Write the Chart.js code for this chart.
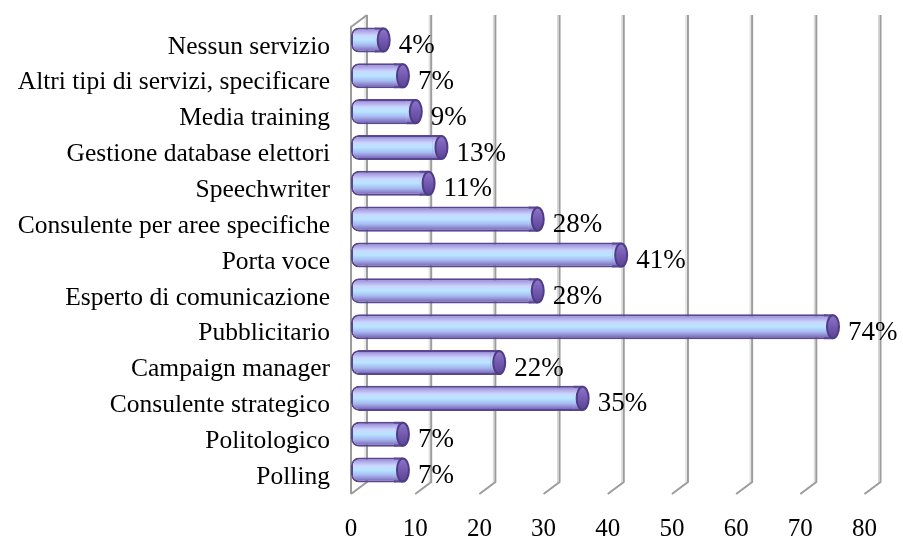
<!DOCTYPE html>
<html>
<head>
<meta charset="utf-8">
<script src="https://cdn.jsdelivr.net/npm/chart.js@4.4.1/dist/chart.umd.min.js"></script>
<style>
  html, body { margin: 0; padding: 0; background: #ffffff; }
  #wrap { width: 903px; height: 540px; position: relative; }
</style>
</head>
<body>
<div id="wrap"><canvas id="chart"></canvas></div>
<script>
// ---- data (top to bottom, as in the picture) ----
const categories = [
  "Nessun servizio",
  "Altri tipi di servizi, specificare",
  "Media training",
  "Gestione database elettori",
  "Speechwriter",
  "Consulente per aree specifiche",
  "Porta voce",
  "Esperto di comunicazione",
  "Pubblicitario",
  "Campaign manager",
  "Consulente strategico",
  "Politologico",
  "Polling"
];
const percentValues = [4, 7, 9, 13, 11, 28, 41, 28, 74, 22, 35, 7, 7];
const axisMin = 0;
const axisMax = 80;
const axisStep = 10;

const SERIF = "'Liberation Serif', 'Times New Roman', serif";
const DEPTH_X = 16, DEPTH_Y = -12;
const CAP_SHIFT = 7;

function makeBarGradient(ctx, cy, h) {
  const g = ctx.createLinearGradient(0, cy - h / 2, 0, cy + h / 2);
  g.addColorStop(0.00, '#6a58a8');
  g.addColorStop(0.12, '#a79ee2');
  g.addColorStop(0.32, '#ccd6ff');
  g.addColorStop(0.50, '#b6e6ff');
  g.addColorStop(0.70, '#a9baf2');
  g.addColorStop(0.88, '#857cc6');
  g.addColorStop(1.00, '#5c4c96');
  return g;
}

function barGradient(c) {
  const chart = c.chart;
  const yScale = chart.scales.y;
  if (!yScale) return '#b8c8ff';
  const cy = yScale.getPixelForValue(c.dataIndex);
  if (!isFinite(cy)) return '#b8c8ff';
  return makeBarGradient(chart.ctx, cy, 25);
}

const wallPlugin = {
  id: 'wall3d',
  beforeDatasetsDraw(chart) {
    const ctx = chart.ctx;
    const xs = chart.scales.x;
    const area = chart.chartArea;
    const frontTop = area.top + 5;
    const frontBottom = area.bottom + 6;
    const backTop = frontTop + DEPTH_Y;
    const backBottom = frontBottom + DEPTH_Y;
    ctx.save();
    ctx.lineCap = 'butt';
    xs.ticks.forEach(t => {
      const fx = xs.getPixelForValue(t.value);
      const bx = fx + DEPTH_X;
      ctx.strokeStyle = '#d4d4d4';
      ctx.lineWidth = 1;
      ctx.beginPath();
      ctx.moveTo(bx - 2, backTop);
      ctx.lineTo(bx - 2, backBottom);
      ctx.stroke();
      ctx.strokeStyle = '#9c9c9c';
      ctx.lineWidth = 2;
      ctx.beginPath();
      ctx.moveTo(bx, backTop);
      ctx.lineTo(bx, backBottom);
      ctx.lineTo(fx, frontBottom);
      ctx.stroke();
    });
    const f0 = xs.getPixelForValue(axisMin);
    ctx.strokeStyle = '#9c9c9c';
    ctx.lineWidth = 2;
    ctx.beginPath();
    ctx.moveTo(f0 + DEPTH_X, backTop);
    ctx.lineTo(f0, frontTop);
    ctx.lineTo(f0, frontBottom);
    ctx.stroke();
    ctx.restore();
  },
  afterDatasetsDraw(chart) {
    const ctx = chart.ctx;
    const meta = chart.getDatasetMeta(0);
    ctx.save();
    meta.data.forEach((bar, i) => {
      const h = bar.height;
      const cy = bar.y;
      const top = cy - h / 2, bot = cy + h / 2;
      const cx = bar.x + CAP_SHIFT;
      ctx.fillStyle = makeBarGradient(ctx, cy, h);
      ctx.fillRect(bar.x - 2, top + 1, cx - bar.x + 2, h - 2);
      ctx.strokeStyle = '#5a4690';
      ctx.lineWidth = 2;
      ctx.beginPath();
      ctx.moveTo(bar.x - 2, top + 1);
      ctx.lineTo(cx, top + 1);
      ctx.moveTo(bar.x - 2, bot - 1);
      ctx.lineTo(cx, bot - 1);
      ctx.stroke();
      const rx = 6, ry = h / 2 - 1;
      const g = ctx.createLinearGradient(0, cy - ry, 0, cy + ry);
      g.addColorStop(0, '#8d76c8');
      g.addColorStop(0.5, '#7459b0');
      g.addColorStop(1, '#5a4594');
      ctx.fillStyle = g;
      ctx.strokeStyle = '#4f3c86';
      ctx.lineWidth = 2;
      ctx.beginPath();
      ctx.ellipse(cx, cy, rx, ry, 0, 0, Math.PI * 2);
      ctx.fill();
      ctx.stroke();
      ctx.fillStyle = '#000000';
      ctx.font = "27px " + SERIF;
      ctx.textAlign = 'left';
      ctx.textBaseline = 'middle';
      ctx.fillText(percentValues[i] + '%', bar.x + 22, cy + 6);
    });
    ctx.restore();
  }
};

new Chart(document.getElementById('chart'), {
  type: 'bar',
  data: {
    labels: categories,
    datasets: [{
      data: percentValues,
      backgroundColor: barGradient,
      borderColor: '#5a4690',
      borderWidth: 2,
      borderSkipped: false,
      borderRadius: { topLeft: 8, bottomLeft: 8, topRight: 0, bottomRight: 0 },
      barPercentage: 0.70,
      categoryPercentage: 1.0
    }]
  },
  options: {
    indexAxis: 'y',
    responsive: true,
    maintainAspectRatio: false,
    animation: false,
    layout: { padding: { left: 0, right: 35, top: 22, bottom: 0 } },
    plugins: {
      legend: { display: false },
      tooltip: { enabled: false },
      title: { display: false }
    },
    scales: {
      x: {
        min: axisMin,
        max: axisMax,
        grid: { display: false, drawTicks: false },
        border: { display: false },
        ticks: {
          stepSize: axisStep,
          color: '#000000',
          font: { family: SERIF, size: 25 },
          padding: 26
        },
        afterFit(scale) { scale.height = 52; }
      },
      y: {
        grid: { display: false, drawTicks: false },
        border: { display: false },
        ticks: {
          color: '#000000',
          font: { family: SERIF, size: 25.5 },
          padding: 21,
          labelOffset: 7,
          autoSkip: false
        },
        afterFit(scale) {
          scale.width = 351;
          scale.paddingTop = 0;
          scale.paddingBottom = 0;
        }
      }
    }
  },
  plugins: [wallPlugin]
});
</script>
</body>
</html>
